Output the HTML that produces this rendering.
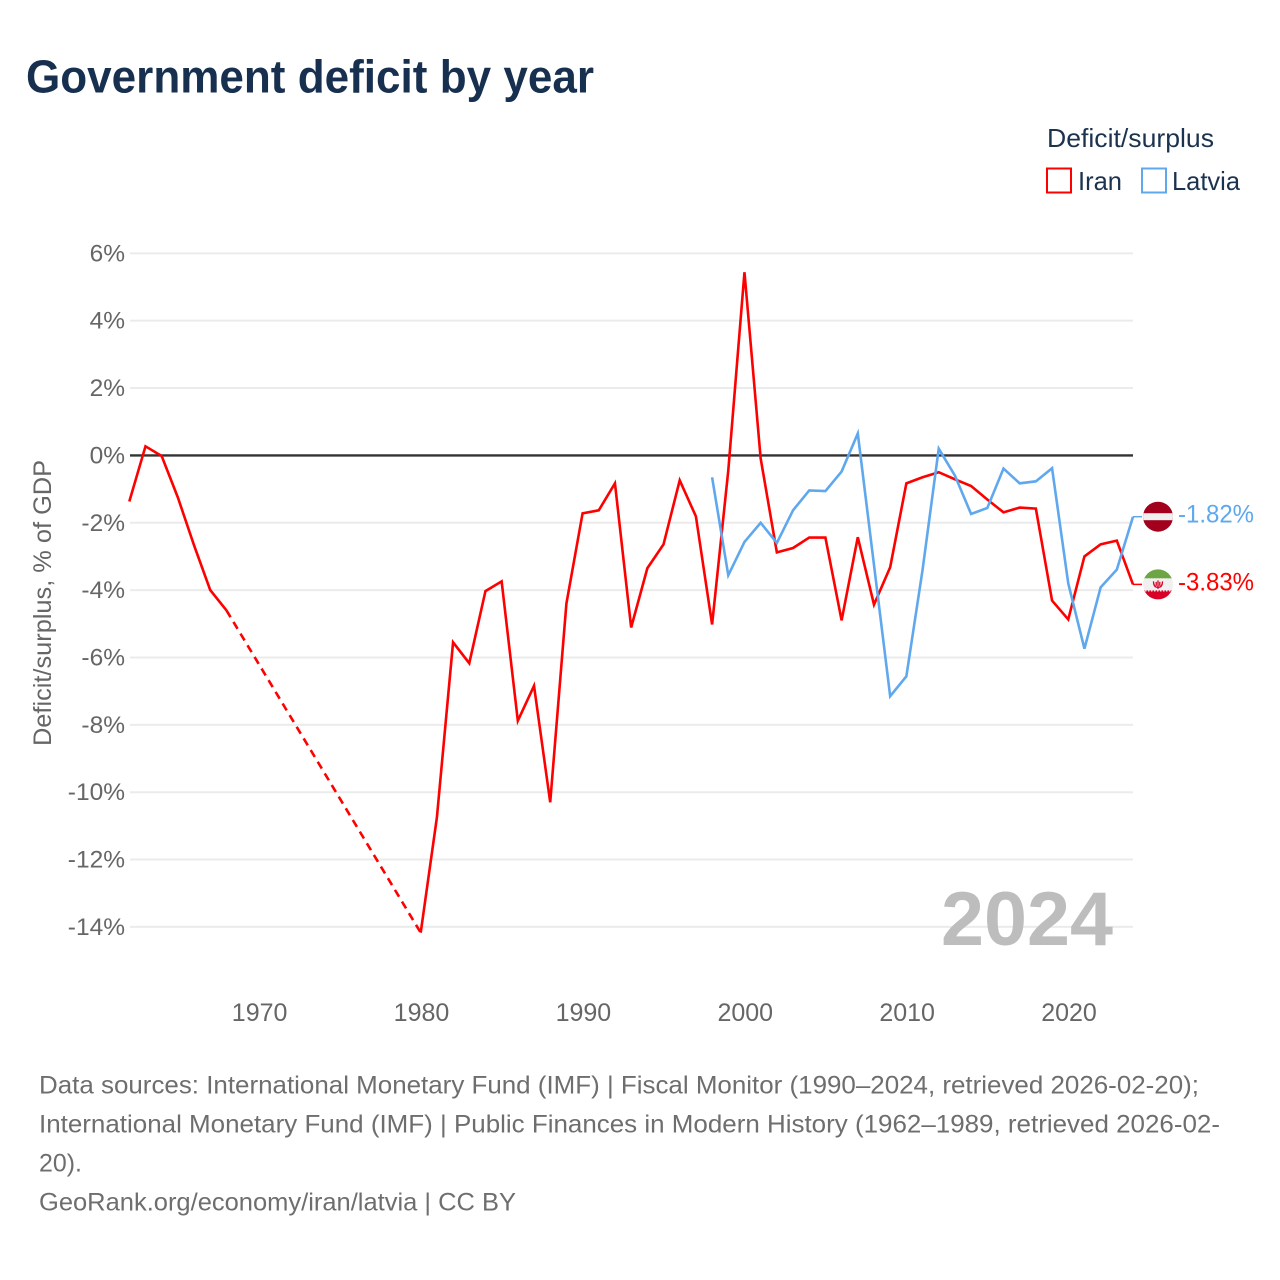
<!DOCTYPE html>
<html lang="en">
<head>
<meta charset="utf-8">
<title>Government deficit by year</title>
<style>
html,body{margin:0;padding:0;background:#fff;}
svg{display:block;font-family:"Liberation Sans",sans-serif;}
</style>
</head>
<body>
<svg id="chart" xmlns="http://www.w3.org/2000/svg" width="1280" height="1280" viewBox="0 0 1280 1280">
  <defs>
    <clipPath id="flag-clip-a"><circle cx="0" cy="0" r="15"/></clipPath>
  </defs>
  <rect x="0" y="0" width="1280" height="1280" fill="#fff"/>
  <text x="26" y="92.500" font-size="46" font-weight="700" fill="#18304f" textLength="568" lengthAdjust="spacingAndGlyphs">Government deficit by year</text>

  <text x="1047" y="147" font-size="26" fill="#1c3350" textLength="167" lengthAdjust="spacingAndGlyphs">Deficit/surplus</text>
  <rect x="1047" y="168.500" width="24" height="24" fill="none" stroke="#ff0000" stroke-width="2"/>
  <text x="1078" y="190" font-size="26" fill="#1c3350" textLength="44" lengthAdjust="spacingAndGlyphs">Iran</text>
  <rect x="1142" y="168.500" width="24" height="24" fill="none" stroke="#5fa8ee" stroke-width="2"/>
  <text x="1172" y="190" font-size="26" fill="#1c3350" textLength="68" lengthAdjust="spacingAndGlyphs">Latvia</text>

  <text transform="translate(51,603) rotate(-90)" text-anchor="middle" font-size="25" fill="#666" textLength="286" lengthAdjust="spacingAndGlyphs">Deficit/surplus, % of GDP</text>

  <g id="grid"></g>
  <g id="x-axis"></g>
  <text x="941" y="945" font-size="76" font-weight="700" fill="#bdbdbd" textLength="172" lengthAdjust="spacingAndGlyphs">2024</text>
  <g id="series"></g>
  <g id="end-labels"></g>

  <g font-size="25" fill="#6e6e6e">
    <text x="39" y="1093.500" textLength="1160" lengthAdjust="spacingAndGlyphs">Data sources: International Monetary Fund (IMF) | Fiscal Monitor (1990–2024, retrieved 2026-02-20);</text>
    <text x="39" y="1132.500" textLength="1181" lengthAdjust="spacingAndGlyphs">International Monetary Fund (IMF) | Public Finances in Modern History (1962–1989, retrieved 2026-02-</text>
    <text x="39" y="1171.500" textLength="43" lengthAdjust="spacingAndGlyphs">20).</text>
    <text x="39" y="1210.500" textLength="477" lengthAdjust="spacingAndGlyphs">GeoRank.org/economy/iran/latvia | CC BY</text>
  </g>
</svg>
<script>
const years = [1962,1963,1964,1965,1966,1967,1968,1969,1970,1971,1972,1973,1974,1975,1976,1977,1978,1979,1980,1981,1982,1983,1984,1985,1986,1987,1988,1989,1990,1991,1992,1993,1994,1995,1996,1997,1998,1999,2000,2001,2002,2003,2004,2005,2006,2007,2008,2009,2010,2011,2012,2013,2014,2015,2016,2017,2018,2019,2020,2021,2022,2023,2024];
const iranValues = [-1.37,0.27,-0.02,-1.25,-2.67,-4.0,-4.6,null,null,null,null,null,null,null,null,null,null,null,-14.17,-10.75,-5.55,-6.17,-4.03,-3.74,-7.88,-6.84,-10.3,-4.4,-1.72,-1.63,-0.83,-5.11,-3.35,-2.64,-0.74,-1.81,-5.02,-0.45,5.44,-0.09,-2.88,-2.75,-2.44,-2.44,-4.9,-2.43,-4.43,-3.32,-0.83,-0.65,-0.5,-0.71,-0.91,-1.31,-1.69,-1.55,-1.58,-4.31,-4.87,-3.0,-2.64,-2.53,-3.83];
const latviaValues = [null,null,null,null,null,null,null,null,null,null,null,null,null,null,null,null,null,null,null,null,null,null,null,null,null,null,null,null,null,null,null,null,null,null,null,null,-0.65,-3.56,-2.57,-2.0,-2.6,-1.63,-1.04,-1.06,-0.48,0.65,-3.25,-7.15,-6.56,-3.4,0.2,-0.6,-1.74,-1.56,-0.39,-0.83,-0.77,-0.38,-3.8,-5.74,-3.92,-3.39,-1.82];
const yTicks = [6,4,2,0,-2,-4,-6,-8,-10,-12,-14];
const xTicks = [1970,1980,1990,2000,2010,2020];

const NS = 'http://www.w3.org/2000/svg';
const IRAN_COLOR = '#ff0000';
const LATVIA_COLOR = '#5fa8ee';
function xScale(year){ return 129.3 + (year - 1962) * (1133 - 129.3) / (2024 - 1962); }
function yScale(v){ return 455.4 - v * 33.68; }
function mk(tag, parent, attrs){
  const el = document.createElementNS(NS, tag);
  for (const k in attrs) el.setAttribute(k, attrs[k]);
  parent.appendChild(el);
  return el;
}

const grid = document.getElementById('grid');
yTicks.forEach(function(t){
  const line = mk('line', grid, {x1:130, x2:1133, y1:yScale(t), y2:yScale(t), stroke: t === 0 ? '#333333' : '#ebebeb', 'stroke-width': t === 0 ? 2.4 : 2});
  
  
  const label = mk('text', grid, {x:125, y:yScale(t) + 8, 'text-anchor':'end', 'font-size':24.5, fill:'#666'});
  label.textContent = t + '%';
  
  
});

const xAxis = document.getElementById('x-axis');
xTicks.forEach(function(t){
  const label = mk('text', xAxis, {x:xScale(t) + 0.8, y:1021, 'text-anchor':'middle', 'font-size':25, fill:'#666'});
  label.textContent = t;
  
  
});

function drawSeries(values, color, name){
  const group = document.getElementById('series');
  let solid = '';
  let dashed = '';
  let prev = null;
  values.forEach(function(v, i){
    if (v === null) return;
    const p = xScale(years[i]).toFixed(2) + ' ' + yScale(v).toFixed(2);
    if (prev === null) solid += 'M' + p;
    else if (prev === i - 1) solid += 'L' + p;
    else {
      dashed += 'M' + xScale(years[prev]).toFixed(2) + ' ' + yScale(values[prev]).toFixed(2) + 'L' + p;
      solid += 'M' + p;
    }
    prev = i;
  });
  const line = mk('path', group, {d:solid, fill:'none', stroke:color, 'stroke-width':2.6, 'stroke-linejoin':'miter'});
  
  
  if (dashed) {
    const gap = mk('path', group, {d:dashed, fill:'none', stroke:color, 'stroke-width':2.6, 'stroke-dasharray':'8 5.600'});
    
    
  }
}
drawSeries(iranValues, IRAN_COLOR, 'iran');
drawSeries(latviaValues, LATVIA_COLOR, 'latvia');

function lastValue(values){ return values[values.length - 1]; }

function drawEnd(values, color, name, drawFlag){
  const g = document.getElementById('end-labels');
  const v = lastValue(values);
  const y = yScale(v);
  const stub = mk('line', g, {x1:xScale(2024), x2:1142, y1:y, y2:y, stroke:color, 'stroke-width':1.500});
  
  
  const flag = mk('g', g, {transform:'translate(1158,' + y.toFixed(2) + ')', 'clip-path':'url(#flag-clip-a)'});
  
  
  drawFlag(flag);
  const label = mk('text', g, {x:1178, y:y + 6, 'font-size':25, fill:color, textLength:76, lengthAdjust:'spacingAndGlyphs'});
  label.textContent = v.toFixed(2) + '%';
  
  
}

drawEnd(latviaValues, LATVIA_COLOR, 'latvia', function(f){
  mk('rect', f, {x:-16, y:-16, width:32, height:32, fill:'#a2001d'});
  mk('rect', f, {x:-16, y:-3.500, width:32, height:7, fill:'#f0f0f0'});
});
drawEnd(iranValues, IRAN_COLOR, 'iran', function(f){
  mk('rect', f, {x:-16, y:-16, width:32, height:32, fill:'#f0f0f0'});
  mk('rect', f, {x:-16, y:-16, width:32, height:10, fill:'#6da544'});
  mk('rect', f, {x:-16, y:6, width:32, height:10, fill:'#d80027'});
  mk('path', f, {d:'M-4.500 -3C-4.500 2 -2 3 0 3C2 3 4.500 2 4.500 -3M0 -4V4.500M-1.800 -2.500V1.500M1.800 -2.500V1.500', fill:'none', stroke:'#d80027', 'stroke-width':1.300});
  mk('line', f, {x1:-16, x2:16, y1:-5.500, y2:-5.500, stroke:'#f0f0f0', 'stroke-width':1.200, 'stroke-dasharray':'1.500 1.500'});
  mk('line', f, {x1:-16, x2:16, y1:6.500, y2:6.500, stroke:'#f0f0f0', 'stroke-width':1.200, 'stroke-dasharray':'1.500 1.500'});
});
</script>
</body>
</html>
